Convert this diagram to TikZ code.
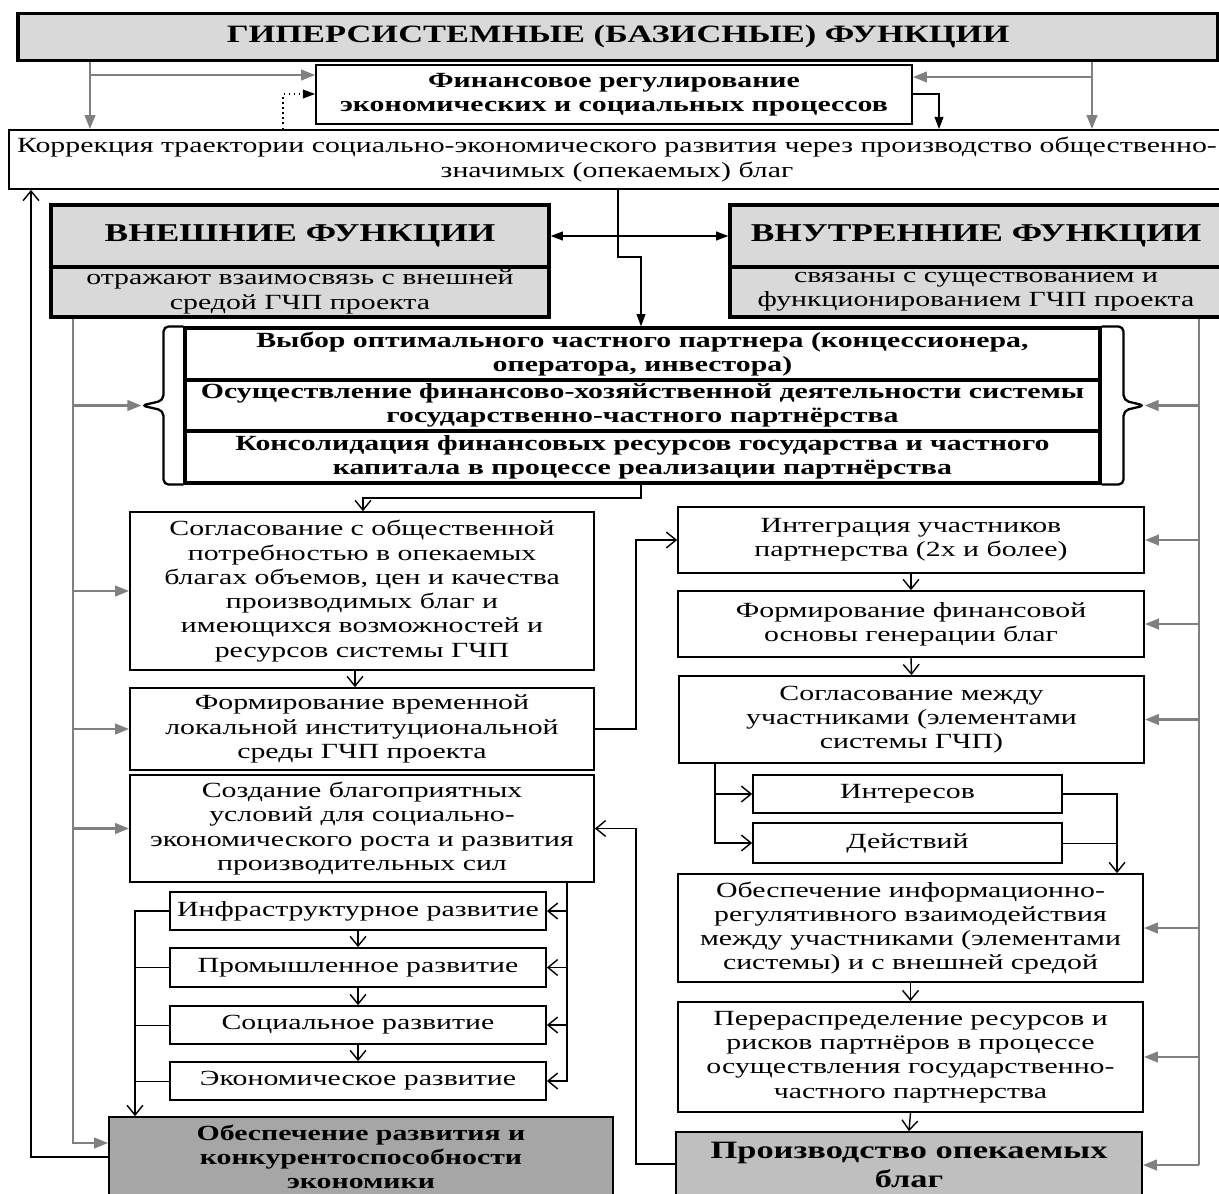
\documentclass[tikz,border=0pt]{standalone}
\usepackage{fontspec}
\setmainfont{Liberation Serif}[FakeStretch=1.38]
\usetikzlibrary{arrows.meta, calc, positioning}

\definecolor{boxgray}{HTML}{D9D9D9}
\definecolor{midgray}{HTML}{BFBFBF}
\definecolor{darkgray}{HTML}{A6A6A6}
\definecolor{linegray}{HTML}{808080}

\newcommand{\normsize}{\fontsize{12.3}{13.8}\selectfont}

\tikzset{
  box/.style={draw, line width=1pt, inner sep=0pt, align=center, font=\normsize},
  boldbox/.style={box, line width=1.8pt, font=\normsize\bfseries},
  wh/.style 2 args={minimum width=#1*0.02cm, minimum height=#2*0.02cm},
  garrow/.style={draw=linegray, line width=1.4pt, -{Triangle[length=8pt,width=6pt]}},
  gline/.style={draw=linegray, line width=1.4pt},
  barrow/.style={line width=0.8pt, -{Straight Barb[length=5.5pt,width=9pt]}},
  farrow/.style={line width=0.9pt, -{Triangle[length=7pt,width=5pt]}},
  bracket/.style={line width=1.3pt, rounded corners=3pt}
}

\begin{document}
\begin{tikzpicture}[x=0.02cm, y=-0.02cm]
    \useasboundingbox (0,0) rectangle (1219,1193);

    % Верхний уровень
    \node[boldbox, fill=boxgray, wh={1200}{47}, font=\fontsize{14.2}{16}\selectfont\bfseries] (top) at (618,37)
        {ГИПЕРСИСТЕМНЫЕ (БАЗИСНЫЕ) ФУНКЦИИ};
    \node[box, wh={596}{59}, font=\normsize\bfseries] (fin) at (614,94.5)
        {Финансовое регулирование\\экономических и социальных процессов};
    \node[box, wh={1216}{59}] (korr) at (617,159.5)
        {Коррекция траектории социально-экономического развития через производство общественно-\\значимых (опекаемых) благ};

    % Внешние и внутренние функции
    \node[boldbox, fill=boxgray, wh={498}{62}, font=\fontsize{14.6}{18}\selectfont\bfseries] (exth) at (300,236) {ВНЕШНИЕ ФУНКЦИИ};
    \node[boldbox, fill=boxgray, wh={498}{50}, font=\normsize] (exts) at (300,292)
        {отражают взаимосвязь с внешней\\средой ГЧП проекта};
    \node[boldbox, fill=boxgray, wh={492}{62}, font=\fontsize{14.6}{18}\selectfont\bfseries] (inth) at (976,236) {ВНУТРЕННИЕ ФУНКЦИИ};
    \node[boldbox, fill=boxgray, wh={492}{50}, font=\normsize] (ints) at (976,292)
        {связаны с существованием и\\функционированием ГЧП проекта};

    % Общие функции
    \node[boldbox, wh={915}{52}] (stk1) at (642.5,354)
        {Выбор оптимального частного партнера (концессионера,\\оператора, инвестора)};
    \node[boldbox, wh={915}{51}] (stk2) at (642.5,405.5)
        {Осуществление финансово-хозяйственной деятельности системы\\государственно-частного партнёрства};
    \node[boldbox, wh={915}{52}] (stk3) at (642.5,457)
        {Консолидация финансовых ресурсов государства и частного\\капитала в процессе реализации партнёрства};

    % Левая колонка
    \node[box, wh={464}{158}] (sogl) at (362,591)
        {Согласование с общественной\\потребностью в опекаемых\\благах объемов, цен и качества\\производимых благ и\\имеющихся возможностей и\\ресурсов системы ГЧП};
    \node[box, wh={464}{82}] (form) at (362,729)
        {Формирование временной\\локальной институциональной\\среды ГЧП проекта};
    \node[box, wh={464}{107}] (sozd) at (362,828.5)
        {Создание благоприятных\\условий для социально-\\экономического роста и развития\\производительных сил};
    \node[box, wh={376}{38}] (infr) at (358,911) {Инфраструктурное развитие};
    \node[box, wh={376}{39}] (prom) at (358,967.5) {Промышленное развитие};
    \node[box, wh={376}{38}] (soc) at (358,1025) {Социальное развитие};
    \node[box, wh={376}{38}] (econ) at (358,1081) {Экономическое развитие};
    \node[box, fill=darkgray, wh={504}{80}, font=\normsize\bfseries] (obesp) at (361,1157)
        {Обеспечение развития и\\конкурентоспособности\\экономики};

    % Правая колонка
    \node[box, wh={466}{66}] (integ) at (911,540)
        {Интеграция участников\\партнерства (2х и более)};
    \node[box, wh={466}{66}] (finb) at (911,624)
        {Формирование финансовой\\основы генерации благ};
    \node[box, wh={465}{87}] (soglm) at (911.5,719.5)
        {Согласование между\\участниками (элементами\\системы ГЧП)};
    \node[box, wh={309}{38}] (inter) at (907.5,794) {Интересов};
    \node[box, wh={309}{40}] (deist) at (907.5,843) {Действий};
    \node[box, wh={465}{108}] (inf) at (910.5,928)
        {Обеспечение информационно-\\регулятивного взаимодействия\\между участниками (элементами\\системы) и с внешней средой};
    \node[box, wh={465}{110}] (perer) at (910.5,1057)
        {Перераспределение ресурсов и\\рисков партнёров в процессе\\осуществления государственно-\\частного партнерства};
    \node[box, fill=midgray, wh={466}{66}, font=\fontsize{14.2}{16.5}\selectfont\bfseries] (proizv) at (909,1165)
        {Производство опекаемых\\благ};

    % Вспомогательные точки
    \coordinate (xgL) at (90,0);    \coordinate (xgR) at (1092,0);
    \coordinate (xdot) at (283,0);  \coordinate (xfin) at (939,0);
    \coordinate (xmid) at (618,0);  \coordinate (xstk) at (641,0);
    \coordinate (xL) at (31,0);     \coordinate (xgl) at (73,0);
    \coordinate (xgr) at (1199,0);  \coordinate (xsA) at (363,0);
    \coordinate (xsB) at (355,0);   \coordinate (xR1) at (636,0);
    \coordinate (xR2) at (715,0);   \coordinate (xR3) at (1117,0);
    \coordinate (xsC) at (567,0);   \coordinate (xsD) at (135,0);
    \coordinate (yA) at (0,75);     \coordinate (yB) at (0,77);
    \coordinate (yC) at (0,94);     \coordinate (yD) at (0,257);
    \coordinate (yE) at (0,1157);   \coordinate (yF) at (0,1143);
    \coordinate (yG) at (0,498);    \coordinate (yH) at (0,1164);

    % Скобки
    \coordinate (lbrace) at ($(stk2.west)+(-42,0)$);
    \coordinate (rbrace) at ($(stk2.east)+(43,0)$);
    \draw[bracket] (stk1.north west) -| ($(stk2.west)+(-20,-5)$) -- (lbrace)
        -- ($(stk2.west)+(-20,5)$) |- (stk3.south west);
    \draw[bracket] (stk1.north east) -| ($(stk2.east)+(22,-5)$) -- (rbrace)
        -- ($(stk2.east)+(22,5)$) |- (stk3.south east);

    % Связи верхнего уровня
    \draw[garrow] (top.south -| xgL) -- (korr.north -| xgL);
    \draw[garrow] (xgL |- yA) -- (fin.west |- yA);
    \draw[garrow] (top.south -| xgR) -- (korr.north -| xgR);
    \draw[garrow] (xgR |- yB) -- (fin.east |- yB);
    \draw[farrow, dotted] (korr.north -| xdot) |- (fin.west |- yC);
    \draw[farrow] (fin.east |- yC) -| (korr.north -| xfin);
    \draw[line width=0.9pt, {Triangle[length=7pt,width=5pt]}-{Triangle[length=7pt,width=5pt]}] (exth.east) -- (inth.west);
    \draw[farrow] (korr.south -| xmid) |- (xstk |- yD) -- (stk1.north -| xstk);
    \draw[barrow] (obesp.west |- yE) -| (korr.south -| xL);

    % Серые линии слева
    \draw[garrow] (exts.south -| xgl) |- (obesp.west |- yF);
    \draw[garrow] (xgl |- lbrace) -- (lbrace);
    \draw[garrow] (xgl |- sogl.west) -- (sogl.west);
    \draw[garrow] (xgl |- form.west) -- (form.west);
    \draw[garrow] (xgl |- sozd.west) -- (sozd.west);

    % Серые линии справа
    \draw[gline] (ints.south -| xgr) -- (xgr |- proizv.east);
    \foreach \n in {rbrace, integ.east, finb.east, soglm.east, inf.east, perer.east, proizv.east}
        \draw[garrow] (xgr |- \n) -- (\n);

    % Левая колонка
    \draw[barrow] (stk3.south -| xstk) -- (xstk |- yG) -| (sogl.north -| xsA);
    \draw[barrow] (sogl.south -| xsB) -- (form.north -| xsB);
    \draw[barrow] (form.east) -| (xR1 |- integ.west) -- (integ.west);
    \draw[barrow] (sozd.south -| xsC) |- (econ.east);
    \foreach \n in {infr, prom, soc}
        \draw[barrow] (xsC |- \n.east) -- (\n.east);
    \draw[barrow] (infr.south) -- (prom.north);
    \draw[barrow] (prom.south) -- (soc.north);
    \draw[barrow] (soc.south) -- (econ.north);
    \draw[barrow] (infr.west) -| (obesp.north -| xsD);
    \foreach \n in {prom, soc, econ}
        \draw (\n.west) -- (\n.west -| xsD);

    % Правая колонка
    \draw[barrow] (integ.south) -- (finb.north);
    \draw[barrow] (finb.south) -- (soglm.north);
    \draw[barrow] (soglm.south -| xR2) |- (inter.west);
    \draw[barrow] (soglm.south -| xR2) |- (deist.west);
    \draw[barrow] (inter.east) -| (inf.north -| xR3);
    \draw (deist.east) -- (deist.east -| xR3);
    \draw[barrow] (inf.south) -- (perer.north);
    \draw[barrow] (perer.south) -- (proizv.north);
    \draw[barrow] (proizv.west |- yH) -| (xR1 |- sozd.east) -- (sozd.east);

\end{tikzpicture}
\end{document}
